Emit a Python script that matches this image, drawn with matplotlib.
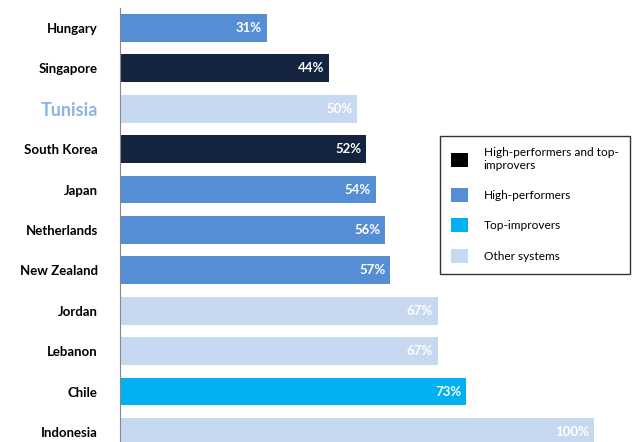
import matplotlib.pyplot as plt
from matplotlib.patches import Patch

plt.rcParams['font.family'] = ['Lato', 'DejaVu Sans']

countries = ['Hungary', 'Singapore', 'Tunisia', 'South Korea', 'Japan', 'Netherlands',
             'New Zealand', 'Jordan', 'Lebanon', 'Chile', 'Indonesia']
values = [31, 44, 50, 52, 54, 56, 57, 67, 67, 73, 100]
groups = ['high', 'both', 'other', 'both', 'high', 'high', 'high', 'other', 'other', 'top', 'other']

colors = {'both': '#14233f', 'high': '#558ed5', 'top': '#00b0f0', 'other': '#c6d9f1'}
legend_labels = ['High-performers and top-\nimprovers', 'High-performers', 'Top-improvers', 'Other systems']
legend_colors = ['#000000', '#558ed5', '#00b0f0', '#c6d9f1']

fig = plt.figure(figsize=(6.39, 4.42), dpi=100)
ax = fig.add_axes([120 / 639, 0, 519 / 639, 434 / 442])

y = list(range(len(countries)))
ax.barh(y, values, height=0.69, color=[colors[g] for g in groups])

# valeurs en blanc au bout de chaque barre
for i, v in enumerate(values):
    ax.text(v - 1, i, f'{v}%', ha='right', va='center', color='white',
            fontsize=9.5, fontweight='bold')

ax.set_xlim(0, 109.5)
ax.set_ylim(10.25, -0.495)
ax.set_yticks(y)
ax.set_yticklabels(countries, fontsize=9.5, fontweight='bold')
ax.tick_params(axis='y', length=0, pad=16)
ax.set_xticks([])
for s in ['top', 'right', 'bottom']:
    ax.spines[s].set_visible(False)
ax.spines['left'].set_color('#888888')

tl = ax.get_yticklabels()[2]  # Tunisia mise en avant
tl.set_color('#8db4e2')
tl.set_fontsize(13)

handles = [Patch(facecolor=c, edgecolor='none') for c in legend_colors]
leg = fig.legend(handles, legend_labels, loc='upper left',
                 bbox_to_anchor=(440 / 639, 1 - 136 / 442), borderaxespad=0,
                 fontsize=8.6, frameon=True, fancybox=False, edgecolor='black',
                 handlelength=1.4, handleheight=1.4, labelspacing=1.4,
                 handletextpad=1.3, borderpad=0.95)
leg.get_frame().set_linewidth(1.0)

fig.savefig('out.png', dpi=100)
